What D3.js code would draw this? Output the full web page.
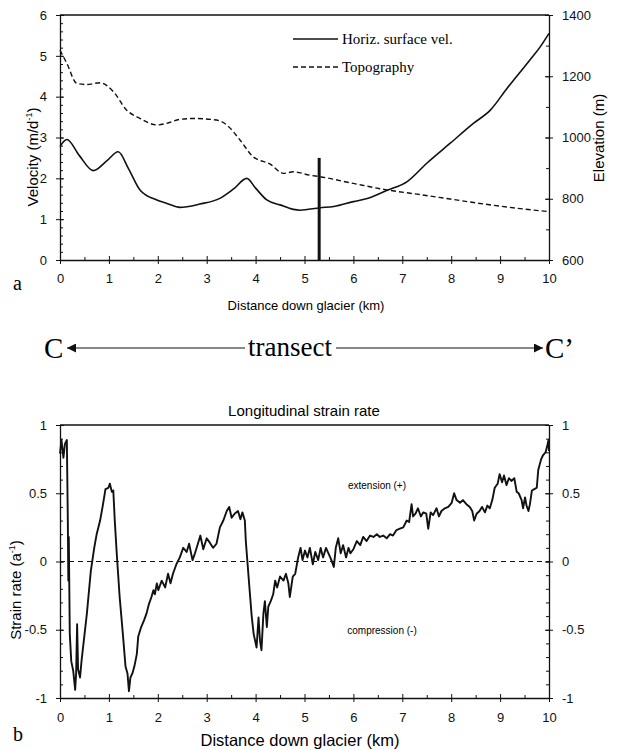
<!DOCTYPE html>
<html>
<head>
<meta charset="utf-8">
<script src="https://cdn.jsdelivr.net/npm/d3@7"></script>
<style>
  body { margin: 0; background: #fff; }
  svg { display: block; }
  .tick text { font-family: "Liberation Sans", Arial, sans-serif; font-size: 13px; fill: #111; }
  .domain, .tick line { stroke: #111; }
</style>
</head>
<body>
<div id="chart"></div>
<script>
// top panel: velocity and topography along the transect
const velKm  = [0, 0.14, 0.4, 0.68, 0.95, 1.19, 1.4, 1.64, 1.98, 2.2, 2.45, 2.86, 3.27, 3.55, 3.82, 4.0, 4.23, 4.5, 4.77, 4.91, 5.32, 5.6, 6.0, 6.3, 6.68, 7.1, 7.5, 7.98, 8.46, 8.8, 9.14, 9.61, 9.82, 10];
const velVal = [2.78, 2.95, 2.55, 2.19, 2.42, 2.65, 2.24, 1.71, 1.47, 1.38, 1.29, 1.37, 1.51, 1.74, 2.0, 1.76, 1.47, 1.35, 1.24, 1.22, 1.28, 1.31, 1.43, 1.51, 1.70, 1.92, 2.37, 2.86, 3.35, 3.67, 4.2, 4.9, 5.22, 5.55];

const topoKm  = [0, 0.14, 0.34, 0.55, 0.82, 1.09, 1.36, 1.64, 1.98, 2.18, 2.45, 2.73, 3.2, 3.41, 3.68, 3.95, 4.3, 4.57, 4.77, 5.11, 5.32, 6.0, 6.68, 7.3, 7.98, 8.66, 9.34, 10];
const topoVal = [1285, 1242, 1177, 1173, 1179, 1150, 1090, 1062, 1041, 1046, 1059, 1062, 1057, 1041, 992, 937, 913, 883, 888, 877, 872, 850, 829, 815, 799, 783, 769, 758];

const markerKm = 5.3, markerTop = 2.5;

// bottom panel: longitudinal strain rate
const strainKm = [0, 0.03, 0.07, 0.1, 0.14, 0.16, 0.17, 0.18, 0.2, 0.23, 0.27, 0.31, 0.33, 0.35, 0.37, 0.41, 0.44, 0.55, 0.63, 0.7, 0.75, 0.82, 0.88, 0.93, 0.99, 1.02, 1.06, 1.09, 1.12, 1.16, 1.22, 1.29, 1.34, 1.38, 1.41, 1.44, 1.48, 1.52, 1.57, 1.6, 1.66, 1.72, 1.77, 1.82, 1.87, 1.91, 1.94, 1.98, 2.01, 2.08, 2.15, 2.21, 2.26, 2.31, 2.38, 2.45, 2.52, 2.59, 2.64, 2.71, 2.76, 2.82, 2.87, 2.93, 3.0, 3.06, 3.13, 3.2, 3.27, 3.34, 3.41, 3.46, 3.51, 3.57, 3.64, 3.69, 3.73, 3.78, 3.8, 3.83, 3.88, 3.92, 3.96, 4.02, 4.06, 4.09, 4.12, 4.16, 4.19, 4.23, 4.26, 4.31, 4.36, 4.4, 4.44, 4.5, 4.57, 4.62, 4.67, 4.7, 4.76, 4.81, 4.87, 4.92, 4.96, 5.01, 5.06, 5.11, 5.17, 5.22, 5.28, 5.33, 5.38, 5.44, 5.49, 5.55, 5.6, 5.64, 5.69, 5.74, 5.79, 5.85, 5.9, 5.94, 6.0, 6.07, 6.14, 6.2, 6.27, 6.34, 6.41, 6.48, 6.54, 6.61, 6.68, 6.75, 6.81, 6.88, 6.95, 7.02, 7.09, 7.14, 7.19, 7.22, 7.27, 7.32, 7.38, 7.43, 7.49, 7.53, 7.58, 7.63, 7.7, 7.75, 7.8, 7.87, 7.94, 8.01, 8.06, 8.11, 8.18, 8.24, 8.31, 8.38, 8.43, 8.47, 8.52, 8.58, 8.63, 8.69, 8.74, 8.79, 8.84, 8.89, 8.95, 8.99, 9.04, 9.08, 9.13, 9.18, 9.23, 9.29, 9.34, 9.38, 9.44, 9.47, 9.51, 9.54, 9.58, 9.61, 9.65, 9.7, 9.75, 9.78, 9.84, 9.88, 9.93, 9.96, 9.99, 10];
const strainVal = [0.79, 0.89, 0.76, 0.86, 0.89, 0.3, -0.14, 0.18, -0.53, -0.73, -0.8, -0.94, -0.82, -0.46, -0.79, -0.85, -0.73, -0.38, -0.07, 0.1, 0.2, 0.3, 0.42, 0.53, 0.54, 0.57, 0.51, 0.52, 0.3, 0.06, -0.26, -0.55, -0.77, -0.82, -0.95, -0.85, -0.82, -0.77, -0.68, -0.55, -0.48, -0.43, -0.38, -0.31, -0.26, -0.21, -0.24, -0.16, -0.21, -0.14, -0.19, -0.09, -0.16, -0.09, -0.02, 0.03, 0.1, 0.07, 0.13, 0.01, 0.06, 0.13, 0.19, 0.09, 0.17, 0.14, 0.1, 0.13, 0.25, 0.3, 0.37, 0.4, 0.32, 0.35, 0.37, 0.31, 0.36, 0.3, 0.15, 0.01, -0.22, -0.4, -0.53, -0.63, -0.41, -0.58, -0.65, -0.38, -0.29, -0.48, -0.33, -0.29, -0.24, -0.14, -0.19, -0.11, -0.14, -0.09, -0.16, -0.26, -0.11, -0.09, 0.03, 0.1, 0.01, 0.08, 0.03, 0.1, -0.02, 0.07, 0.01, 0.1, 0.03, 0.1, 0.06, 0.01, -0.04, 0.1, 0.17, 0.06, 0.12, 0.03, 0.1, 0.06, 0.09, 0.15, 0.12, 0.18, 0.15, 0.19, 0.18, 0.2, 0.18, 0.19, 0.17, 0.2, 0.19, 0.23, 0.24, 0.25, 0.3, 0.29, 0.42, 0.33, 0.35, 0.39, 0.33, 0.36, 0.35, 0.24, 0.36, 0.34, 0.39, 0.33, 0.37, 0.39, 0.4, 0.43, 0.5, 0.45, 0.43, 0.45, 0.42, 0.4, 0.37, 0.3, 0.35, 0.37, 0.4, 0.36, 0.41, 0.39, 0.45, 0.54, 0.57, 0.64, 0.58, 0.63, 0.56, 0.61, 0.59, 0.61, 0.51, 0.5, 0.45, 0.39, 0.47, 0.41, 0.37, 0.42, 0.52, 0.53, 0.54, 0.67, 0.75, 0.78, 0.8, 0.84, 0.89, 0.81];

const kmTicks     = [0, 1, 2, 3, 4, 5, 6, 7, 8, 9, 10];
const velTicks    = [0, 1, 2, 3, 4, 5, 6];
const elevTicks   = [600, 800, 1000, 1200, 1400];
const strainTicks = [-1, -0.5, 0, 0.5, 1];

const sans = '"Liberation Sans", Arial, sans-serif',
      serif = '"Liberation Serif", "Times New Roman", serif';

const W = 619, H = 750;
const left = 60, right = 549;
const topA = {y0: 15, y1: 260},
      topB = {y0: 425, y1: 698};

// plain hyphen for negatives, like the original figure
const hyphenFmt = d => String(d).replace('\u2212', '-');

const svg = d3.select('#chart').append('svg')
    .attr('width', W)
    .attr('height', H);

const x = d3.scaleLinear().domain([0, 10]).range([left, right]);

const yVel  = d3.scaleLinear().domain([0, 6]).range([topA.y1, topA.y0]);
const yElev = d3.scaleLinear().domain([600, 1400]).range([topA.y1, topA.y0]);
const yStr  = d3.scaleLinear().domain([-1, 1]).range([topB.y1, topB.y0]);

// crossing major ticks + small inside minor ticks
function xAxis(yPos, labelPad) {
  svg.append('g')
      .attr('transform', `translate(0, ${yPos})`)
      .call(d3.axisBottom(x).tickValues(d3.range(0.5, 10, 1)).tickSize(-3).tickFormat(''))
      .call(g => g.select('.domain').remove());
  const g = svg.append('g')
      .attr('transform', `translate(0, ${yPos})`)
      .call(d3.axisBottom(x).tickValues(kmTicks).tickSize(4).tickPadding(labelPad).tickSizeOuter(0));
  g.selectAll('.tick line').attr('y1', -4).attr('y2', 4);
  g.select('.domain').attr('stroke-width', 1.3);
}

function yAxis(scale, xPos, ticks, minor, side, fmt, pad) {
  const gen = side === 'left' ? d3.axisLeft : d3.axisRight;
  svg.append('g')
      .attr('transform', `translate(${xPos}, 0)`)
      .call(gen(scale).tickValues(minor).tickSize(-3).tickFormat(''))
      .call(g => g.select('.domain').remove());
  const g = svg.append('g')
      .attr('transform', `translate(${xPos}, 0)`)
      .call(gen(scale).tickValues(ticks).tickSize(4).tickPadding(pad).tickSizeOuter(0).tickFormat(fmt));
  g.selectAll('.tick line').attr('x1', -4).attr('x2', 4);
  g.select('.domain').attr('stroke-width', 1.3);
  return g;
}

// ---------- panel a ----------
svg.append('line')
    .attr('x1', left).attr('x2', right)
    .attr('y1', topA.y0).attr('y2', topA.y0)
    .attr('stroke', '#111').attr('stroke-width', 1.3);

xAxis(topA.y1, 10);
yAxis(yVel, left, velTicks, d3.range(0, 6.01, 0.2), 'left', d3.format('d'), 9);
yAxis(yElev, right, elevTicks, d3.range(600, 1401, 100), 'right', d3.format('d'), 9);

const velData  = velKm.map((d, i) => ({km: d, v: velVal[i]}));
const topoData = topoKm.map((d, i) => ({km: d, v: topoVal[i]}));

svg.append('path')
    .datum(topoData)
    .attr('fill', 'none')
    .attr('stroke', '#111')
    .attr('stroke-width', 1.4)
    .attr('stroke-dasharray', '5,3')
    .attr('d', d3.line().x(d => x(d.km)).y(d => yElev(d.v)).curve(d3.curveMonotoneX));

svg.append('path')
    .datum(velData)
    .attr('fill', 'none')
    .attr('stroke', '#111')
    .attr('stroke-width', 1.6)
    .attr('d', d3.line().x(d => x(d.km)).y(d => yVel(d.v)).curve(d3.curveMonotoneX));

svg.append('line')
    .attr('x1', x(markerKm)).attr('x2', x(markerKm))
    .attr('y1', yVel(0)).attr('y2', yVel(markerTop))
    .attr('stroke', '#111').attr('stroke-width', 3);

// legend
const legend = [{label: 'Horiz. surface vel.', dash: null, y: 39},
                {label: 'Topography', dash: '5,3', y: 67}];
legend.forEach(l => {
  svg.append('line')
      .attr('x1', 293).attr('x2', 338)
      .attr('y1', l.y).attr('y2', l.y)
      .attr('stroke', '#111').attr('stroke-width', 1.4)
      .attr('stroke-dasharray', l.dash);
  svg.append('text')
      .attr('x', 342).attr('y', l.y + 5)
      .style('font-family', serif).style('font-size', '15px')
      .text(l.label);
});

// axis titles
const velLabel = svg.append('text')
    .attr('transform', 'translate(38, 157) rotate(-90)')
    .attr('text-anchor', 'middle')
    .style('font-family', sans).style('font-size', '15px');
velLabel.append('tspan').text('Velocity (m/d');
velLabel.append('tspan').attr('dy', -6).style('font-size', '9px').text('-1');
velLabel.append('tspan').attr('dy', 6).text(')');

svg.append('text')
    .attr('transform', 'translate(604, 138) rotate(-90)')
    .attr('text-anchor', 'middle')
    .style('font-family', sans).style('font-size', '15px')
    .text('Elevation (m)');

svg.append('text')
    .attr('x', 306).attr('y', 310)
    .attr('text-anchor', 'middle')
    .style('font-family', sans).style('font-size', '13px')
    .text('Distance down glacier (km)');

svg.append('text')
    .attr('x', 13).attr('y', 290)
    .style('font-family', serif).style('font-size', '20px')
    .text('a');

// ---------- transect arrow ----------
svg.append('defs').append('marker')
    .attr('id', 'head')
    .attr('viewBox', '0 0 10 10')
    .attr('refX', 10).attr('refY', 5)
    .attr('markerWidth', 9).attr('markerHeight', 9)
    .attr('markerUnits', 'userSpaceOnUse')
    .attr('orient', 'auto')
    .append('path').attr('d', 'M0,0 L10,5 L0,10 z').attr('fill', '#111');

const tY = 348;
svg.append('line')
    .attr('x1', 245).attr('x2', 67).attr('y1', tY).attr('y2', tY)
    .attr('stroke', '#111').attr('stroke-width', 1.2)
    .attr('marker-end', 'url(#head)');
svg.append('line')
    .attr('x1', 336).attr('x2', 543).attr('y1', tY).attr('y2', tY)
    .attr('stroke', '#111').attr('stroke-width', 1.2)
    .attr('marker-end', 'url(#head)');
svg.append('text')
    .attr('x', 290).attr('y', tY + 8)
    .attr('text-anchor', 'middle')
    .style('font-family', serif).style('font-size', '27px')
    .text('transect');
svg.append('text')
    .attr('x', 44).attr('y', tY + 10)
    .style('font-family', serif).style('font-size', '29px')
    .text('C');
svg.append('text')
    .attr('x', 545).attr('y', tY + 10)
    .style('font-family', serif).style('font-size', '29px')
    .text('C\u2019');

// ---------- panel b ----------
svg.append('text')
    .attr('x', 304).attr('y', 416)
    .attr('text-anchor', 'middle')
    .style('font-family', sans).style('font-size', '15px')
    .text('Longitudinal strain rate');

svg.append('line')
    .attr('x1', left).attr('x2', right)
    .attr('y1', topB.y0).attr('y2', topB.y0)
    .attr('stroke', '#111').attr('stroke-width', 1.3);

xAxis(topB.y1, 11);
yAxis(yStr, left, strainTicks, d3.range(-1, 1.001, 0.1), 'left', hyphenFmt, 9);
yAxis(yStr, right, strainTicks, d3.range(-1, 1.001, 0.1), 'right', hyphenFmt, 9);

svg.append('line')
    .attr('x1', left).attr('x2', right)
    .attr('y1', yStr(0)).attr('y2', yStr(0))
    .attr('stroke', '#111').attr('stroke-width', 1.1)
    .attr('stroke-dasharray', '5,4');

const strainData = strainKm.map((d, i) => ({km: d, v: strainVal[i]}));
svg.append('path')
    .datum(strainData)
    .attr('fill', 'none')
    .attr('stroke', '#111')
    .attr('stroke-width', 1.9)
    .attr('stroke-linejoin', 'round')
    .attr('d', d3.line().x(d => x(d.km)).y(d => yStr(d.v)));

svg.append('text')
    .attr('x', 377).attr('y', 489)
    .attr('text-anchor', 'middle')
    .style('font-family', sans).style('font-size', '10px')
    .text('extension (+)');
svg.append('text')
    .attr('x', 382).attr('y', 634)
    .attr('text-anchor', 'middle')
    .style('font-family', sans).style('font-size', '10px')
    .text('compression (-)');

const strLabel = svg.append('text')
    .attr('transform', 'translate(21, 590) rotate(-90)')
    .attr('text-anchor', 'middle')
    .style('font-family', sans).style('font-size', '15px');
strLabel.append('tspan').text('Strain rate (a');
strLabel.append('tspan').attr('dy', -6).style('font-size', '9px').text('-1');
strLabel.append('tspan').attr('dy', 6).text(')');

svg.append('text')
    .attr('x', 300).attr('y', 746)
    .attr('text-anchor', 'middle')
    .style('font-family', sans).style('font-size', '16.5px')
    .text('Distance down glacier (km)');

svg.append('text')
    .attr('x', 13).attr('y', 741)
    .style('font-family', serif).style('font-size', '20px')
    .text('b');
</script>
</body>
</html>
